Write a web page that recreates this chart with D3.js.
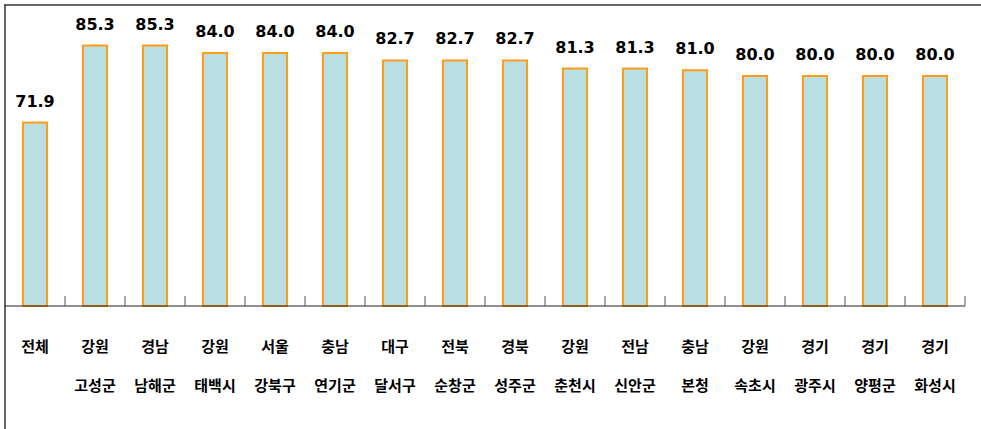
<!DOCTYPE html>
<html><head><meta charset="utf-8">
<script src="https://cdn.jsdelivr.net/npm/d3@7"></script>
<style>body{margin:0;background:#fff}svg{display:block}</style>
</head><body>
<svg id="c" width="981" height="429"></svg>
<script>
const line1 = ["전체","강원","경남","강원","서울","충남","대구","전북","경북","강원","전남","충남","강원","경기","경기","경기"];
const line2 = ["","고성군","남해군","태백시","강북구","연기군","달서구","순창군","성주군","춘천시","신안군","본청","속초시","광주시","양평군","화성시"];
const values = [71.9,85.3,85.3,84.0,84.0,84.0,82.7,82.7,82.7,81.3,81.3,81.0,80.0,80.0,80.0,80.0];

const svg = d3.select("#c");
const keys = d3.range(values.length);
const x = d3.scaleBand().domain(keys).range([5, 965]).paddingInner(0).paddingOuter(0);
const y = d3.scaleLinear().domain([40, 90]).range([306, 18.5]);
const bw = 24;

// frame
svg.append("line").attr("x1",5).attr("x2",5).attr("y1",5).attr("y2",429).attr("stroke","#333").attr("stroke-width",1.5);
svg.append("line").attr("x1",4).attr("x2",981).attr("y1",5).attr("y2",5).attr("stroke","#333").attr("stroke-width",1.5);

// bars
svg.selectAll("rect.bar").data(values).join("rect")
  .attr("x",(d,i)=>x(i)+x.bandwidth()/2-bw/2)
  .attr("y",d=>y(d))
  .attr("width",bw)
  .attr("height",d=>y(40)-y(d))
  .attr("fill","#b9dfe2")
  .attr("stroke","#ff9c1a")
  .attr("stroke-width",2);

// axis baseline and ticks
svg.append("line").attr("x1",5).attr("x2",965).attr("y1",306).attr("y2",306).attr("stroke","#222").attr("stroke-width",1);
svg.selectAll("line.tick").data(keys).join("line")
  .attr("x1",i=>x(i)+x.bandwidth()).attr("x2",i=>x(i)+x.bandwidth())
  .attr("y1",296).attr("y2",306).attr("stroke","#555").attr("stroke-width",1);

// value labels
svg.selectAll("text.val").data(values).join("text")
  .attr("x",(d,i)=>x(i)+x.bandwidth()/2)
  .attr("y",d=>y(d)-16)
  .attr("text-anchor","middle")
  .attr("font-family","'DejaVu Sans', Verdana, sans-serif")
  .attr("font-weight","bold")
  .attr("font-size","16px")
  .attr("fill","#000")
  .text(d=>d.toFixed(1));

// category labels
const cf = "'Noto Sans CJK KR', sans-serif";
svg.selectAll("text.c1").data(line1).join("text")
  .attr("x",(d,i)=>x(i)+x.bandwidth()/2).attr("y",352)
  .attr("text-anchor","middle").attr("font-family",cf).attr("font-weight","bold")
  .attr("font-size","15px").attr("fill","#000").text(d=>d);
svg.selectAll("text.c2").data(line2).join("text")
  .attr("x",(d,i)=>x(i)+x.bandwidth()/2).attr("y",391)
  .attr("text-anchor","middle").attr("font-family",cf).attr("font-weight","bold")
  .attr("font-size","15px").attr("fill","#000").text(d=>d);
</script>
</body></html>
